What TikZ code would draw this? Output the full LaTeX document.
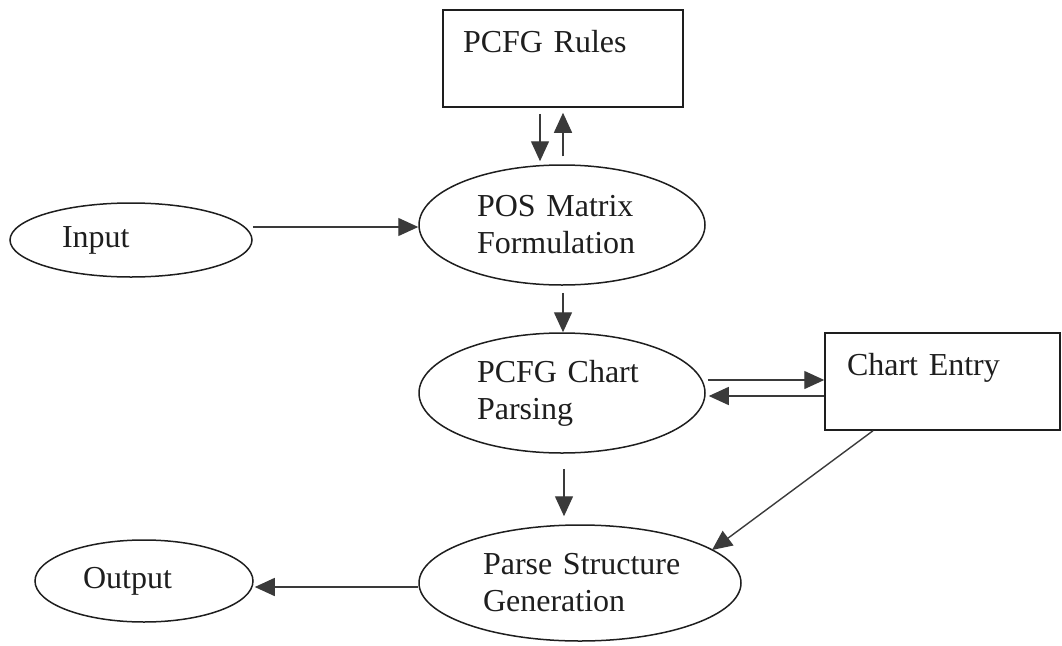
\documentclass[tikz,border=0pt]{standalone}
\usepackage{fontspec}
\setmainfont{Liberation Serif}
\usetikzlibrary{shapes.geometric,arrows.meta}
\definecolor{ink}{HTML}{1E1E1E}
\definecolor{shaft}{HTML}{3A3A3A}
\begin{document}
\begin{tikzpicture}[x=1pt,y=-1pt,
  every node/.style={font=\fontsize{32}{37}\selectfont, text=ink},
  oval/.style={draw=ink, line width=1.5pt, ellipse, inner sep=0pt, align=left},
  panel/.style={draw=ink, line width=1.5pt, rectangle, inner ysep=0pt,
    text height=42pt, text depth=55pt, align=left},
  flow/.style={draw=shaft, line width=1.4pt,
    -{Triangle[length=20pt,width=18pt]}}]
\useasboundingbox (0,0) rectangle (1062,645);

% process stages
\node[panel, inner xsep=20pt, text width=200pt] (rules) at (563,58.5) {\mbox{PCFG Rules}};
\node[panel, inner xsep=22pt, text width=191pt] (entry) at (942.5,381.5) {\mbox{Chart Entry}};
\node[oval, minimum width=286pt, minimum height=120pt, text width=170pt] (pos) at (562,225) {\mbox{POS Matrix}\\\mbox{Formulation}};
\node[oval, minimum width=286pt, minimum height=120pt, text width=170pt] (chart) at (562,393) {\mbox{PCFG Chart}\\\mbox{Parsing}};
\node[oval, minimum width=322pt, minimum height=116pt, text width=194pt] (parse) at (580,583) {\mbox{Parse Structure}\\\mbox{Generation}};
\node[oval, minimum width=242pt, minimum height=74pt, text width=138pt] (input) at (131,240) {\mbox{Input}};
\node[oval, minimum width=218pt, minimum height=82pt, text width=122pt] (output) at (144,581) {\mbox{Output}};

% connectors
\draw[flow] ([shift={(-23,6)}]rules.south) -- ([shift={(-22,-3)}]pos.north);
\draw[flow] ([shift={(1,-8)}]pos.north) -- ([shift={(0,5)}]rules.south);
\draw[flow] ([shift={(0,-13)}]input.east) -- ([shift={(0,2)}]pos.west);
\draw[flow] ([shift={(1,7)}]pos.south) -- ([shift={(1,0)}]chart.north);
\draw[flow] ([shift={(2,-13)}]chart.east) -- ([shift={(0,-1.5)}]entry.west);
\draw[flow] ([shift={(0,14.5)}]entry.west) -- ([shift={(3,3)}]chart.east);
\draw[flow] ([shift={(2,15)}]chart.south) -- ([shift={(-16,-8)}]parse.north);
\draw[flow] ([shift={(-69.5,0)}]entry.south) -- ([shift={(132,-33)}]parse.center);
\draw[flow] ([shift={(0,4)}]parse.west) -- ([shift={(1,6)}]output.east);
\end{tikzpicture}
\end{document}
